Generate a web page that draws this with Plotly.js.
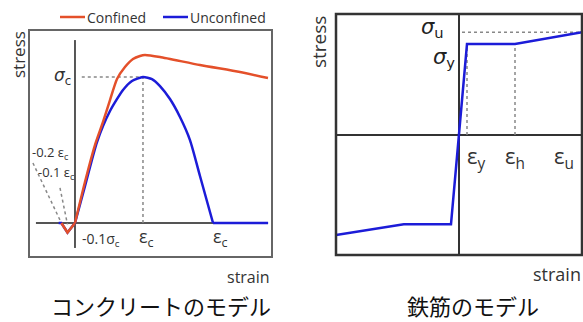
<!DOCTYPE html>
<html>
<head>
<meta charset="utf-8">
<script src="https://cdn.plot.ly/plotly-3.0.1.min.js"></script>
<style>html,body{margin:0;padding:0;background:#fff;}#chart{width:583px;height:322px;}</style>
</head>
<body>
<div id="chart"></div>
<script>
// ---------- DATA (normalised: strain / eps_c, stress / sigma_c) ----------
const unconfStrain = [-0.24, -0.20, -0.11, 0, 0.147, 0.324, 0.515, 0.706, 0.838, 1.0, 1.132, 1.25, 1.397, 1.544, 1.691, 1.838, 2.03, 2.84];
const unconfStress = [0, 0, -0.065, 0, 0.253, 0.555, 0.767, 0.911, 0.973, 1.0, 0.986, 0.938, 0.849, 0.726, 0.568, 0.322, 0, 0];
const confStrain = [-0.20, -0.11, 0, 0.147, 0.294, 0.412, 0.515, 0.618, 0.735, 0.853, 0.956, 1.029, 1.25, 1.838, 2.426, 2.838];
const confStress = [0, -0.065, 0, 0.281, 0.534, 0.692, 0.842, 0.986, 1.068, 1.123, 1.144, 1.151, 1.137, 1.082, 1.034, 0.993];
// steel (strain / eps_y, stress / sigma_y)
const steelStrain = [-15.375, -6.9, -1.0, 1.0, 7.0, 15.375];
const steelStress = [-1.10, -0.98, -0.98, 1.0, 1.0, 1.13];
// reference values
const concRef = {epsC: 1.0, sigC: 1.0, eps02: -0.2, eps01: -0.11};
const steelRef = {epsY: 1.0, epsH: 7.0, sigY: 1.0, sigU: 1.13};
// labels
const legendNames = ['Confined', 'Unconfined'];
const titles = ['コンクリートのモデル', '鉄筋のモデル'];
const axisWords = ['stress', 'strain'];

const RED = '#e4502a', BLUE = '#1c1cd8';
const W = 583, H = 322;
const TXT = 'Liberation Sans Narrow, Open Sans, sans-serif';
const GRK = 'DejaVu Sans, sans-serif';
const JP = 'Noto Sans CJK JP, sans-serif';
function px(x, y) { return {xref: 'paper', yref: 'paper', x: x / W, y: 1 - y / H}; }
function ann(x, y, text, size, opts) {
  return Object.assign(px(x, y), {text: text, showarrow: false, borderpad: 0, font: {size: size, color: '#333', family: TXT}, xanchor: 'center', yanchor: 'middle'}, opts || {});
}
// piece of a curve: linear segments at the kinks, smooth spline through the body
function piece(xs, ys, a, b, color, smooth, name) {
  return {x: xs.slice(a, b + 1), y: ys.slice(a, b + 1), xaxis: 'x', yaxis: 'y', mode: 'lines', name: name,
    line: smooth ? {color: color, width: 2.5, shape: 'spline', smoothing: 0.6} : {color: color, width: 2.5}, showlegend: false};
}
const uZero = unconfStrain.indexOf(0), uEnd = unconfStress.lastIndexOf(0) - 1;
const cZero = confStrain.indexOf(0);

const traces = [
  piece(unconfStrain, unconfStress, 0, uZero, BLUE, false, legendNames[1]),
  piece(unconfStrain, unconfStress, uZero, uEnd, BLUE, true, legendNames[1]),
  piece(unconfStrain, unconfStress, uEnd, unconfStrain.length - 1, BLUE, false, legendNames[1]),
  piece(confStrain, confStress, 0, cZero, RED, false, legendNames[0]),
  piece(confStrain, confStress, cZero, confStrain.length - 1, RED, true, legendNames[0]),
  {x: steelStrain, y: steelStress, xaxis: 'x2', yaxis: 'y2', mode: 'lines', name: 'steel', line: {color: BLUE, width: 2.5}, showlegend: false}
];

const dot = {color: '#888', width: 1.5, dash: 'dot'};
const shapes = [
  // left frame + axes
  {type: 'rect', xref: 'x domain', yref: 'y domain', x0: 0, x1: 1, y0: 0, y1: 1, line: {color: '#666', width: 2}},
  {type: 'line', xref: 'x', yref: 'y', x0: 0, x1: 0, y0: -0.171, y1: 1.253, line: {color: '#555', width: 2}, layer: 'below'},
  {type: 'line', xref: 'x', yref: 'y', x0: -0.574, x1: 2.838, y0: 0, y1: 0, line: {color: '#555', width: 2}, layer: 'below'},
  {type: 'line', xref: 'x', yref: 'y', x0: 0.10, x1: concRef.epsC, y0: concRef.sigC, y1: concRef.sigC, line: dot, layer: 'below'},
  {type: 'line', xref: 'x', yref: 'y', x0: concRef.epsC, x1: concRef.epsC, y0: 0, y1: concRef.sigC, line: dot, layer: 'below'},
  {type: 'line', xref: 'x', yref: 'y', x0: -0.618, x1: concRef.eps02, y0: 0.411, y1: 0, line: dot, layer: 'below'},
  {type: 'line', xref: 'x', yref: 'y', x0: -0.22, x1: concRef.eps01, y0: 0.24, y1: -0.01, line: dot, layer: 'below'},
  // right frame + axes
  {type: 'rect', xref: 'x2 domain', yref: 'y2 domain', x0: 0, x1: 1, y0: 0, y1: 1, line: {color: '#333', width: 2.5}},
  {type: 'line', xref: 'x2', yref: 'y2 domain', x0: 0, x1: 0, y0: 0, y1: 1, line: {color: '#333', width: 2}, layer: 'below'},
  {type: 'line', xref: 'x2 domain', yref: 'y2', x0: 0, x1: 1, y0: 0, y1: 0, line: {color: '#333', width: 2}, layer: 'below'},
  {type: 'line', xref: 'x2', yref: 'y2', x0: 0.375, x1: 15.375, y0: steelRef.sigU, y1: steelRef.sigU, line: dot, layer: 'below'},
  {type: 'line', xref: 'x2', yref: 'y2', x0: steelRef.epsY, x1: steelRef.epsY, y0: 0, y1: steelRef.sigY, line: dot, layer: 'below'},
  {type: 'line', xref: 'x2', yref: 'y2', x0: steelRef.epsH, x1: steelRef.epsH, y0: 0, y1: steelRef.sigY, line: dot, layer: 'below'},
  // legend swatches
  {type: 'line', x0: 60 / W, x1: 85 / W, y0: 1 - 17 / H, y1: 1 - 17 / H, xref: 'paper', yref: 'paper', line: {color: RED, width: 2.5}},
  {type: 'line', x0: 163 / W, x1: 188 / W, y0: 1 - 17 / H, y1: 1 - 17 / H, xref: 'paper', yref: 'paper', line: {color: BLUE, width: 2.5}}
];

const annotations = [
  ann(86, 17, legendNames[0], 14, {xanchor: 'left'}),
  ann(189, 17, legendNames[1], 14, {xanchor: 'left'}),
  ann(19, 55, axisWords[0], 17, {textangle: -90}),
  ann(72, 77, '<i>σ</i><sub>c</sub>', 17, {xanchor: 'right', font: {size: 17, color: '#333', family: GRK}}),
  ann(31, 153, '-0.2 ε<sub>c</sub>', 13, {xanchor: 'left'}),
  ann(37, 173, '-0.1 ε<sub>c</sub>', 13, {xanchor: 'left'}),
  ann(81, 239, '-0.1σ<sub>c</sub>', 14, {xanchor: 'left'}),
  ann(146, 238, 'ε<sub>c</sub>', 18),
  ann(220, 238, 'ε<sub>c</sub>', 18),
  ann(271, 277, axisWords[1], 16, {xanchor: 'right'}),
  ann(161, 322, titles[0], 22, {yanchor: 'bottom', font: {size: 22, color: '#111', family: JP}}),
  ann(319, 42, axisWords[0], 19, {textangle: -90}),
  ann(532, 274, axisWords[1], 18, {xanchor: 'left'}),
  ann(445, 28, '<i>σ</i><sub>u</sub>', 21, {xanchor: 'right', font: {size: 21, color: '#222', family: GRK}}),
  ann(456, 58, '<i>σ</i><sub>y</sub>', 21, {xanchor: 'right', font: {size: 21, color: '#222', family: GRK}}),
  ann(466, 157, 'ε<sub>y</sub>', 22, {xanchor: 'left'}),
  ann(504, 157, 'ε<sub>h</sub>', 22, {xanchor: 'left'}),
  ann(553, 157, 'ε<sub>u</sub>', 22, {xanchor: 'left'}),
  ann(473, 322, titles[1], 22, {yanchor: 'bottom', font: {size: 22, color: '#111', family: JP}})
];

const hid = {showgrid: false, zeroline: false, showticklabels: false, showline: false, ticks: '', fixedrange: true};
const layout = {
  width: W, height: H, margin: {l: 0, r: 0, t: 0, b: 0},
  paper_bgcolor: '#fff', plot_bgcolor: 'rgba(0,0,0,0)', showlegend: false,
  xaxis: Object.assign({domain: [29 / W, 272 / W], range: [-0.676, 2.897]}, hid),
  yaxis: Object.assign({domain: [1 - 257 / H, 1 - 30 / H], range: [-0.233, 1.322]}, hid),
  xaxis2: Object.assign({domain: [336 / W, 582 / W], range: [-15.375, 15.375], anchor: 'y2'}, hid),
  yaxis2: Object.assign({domain: [1 - 255 / H, 1 - 14 / H], range: [-1.319, 1.33], anchor: 'x2'}, hid),
  shapes: shapes, annotations: annotations
};
Plotly.newPlot('chart', traces, layout, {staticPlot: true, displayModeBar: false});
</script>
</body>
</html>
